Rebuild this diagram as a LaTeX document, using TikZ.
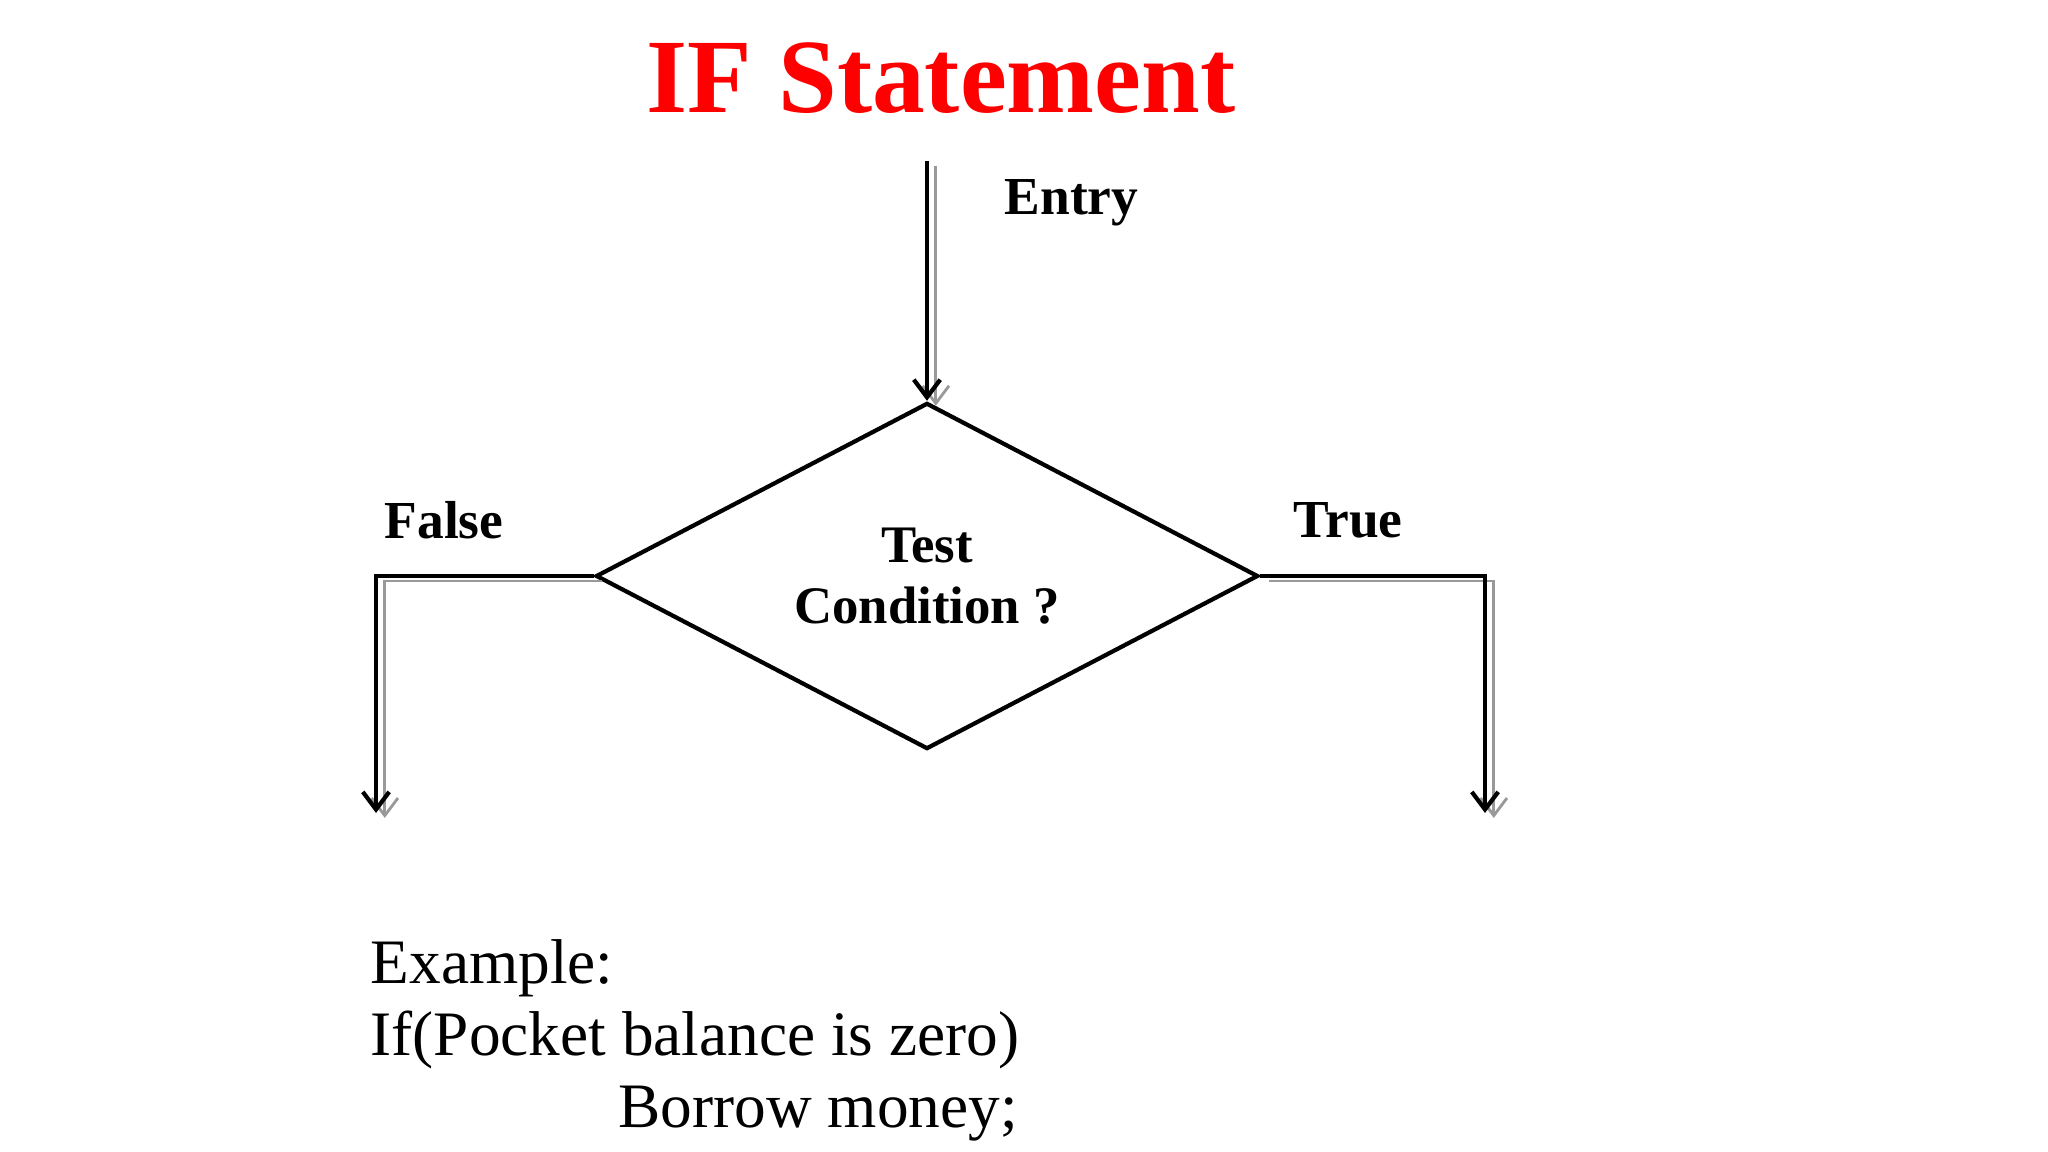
\documentclass[tikz,border=0pt]{standalone}
\usepackage{fontspec}
\setmainfont{Liberation Serif}
\usetikzlibrary{shapes.geometric, arrows.meta}

\begin{document}
\begin{tikzpicture}[x=0.01cm, y=-0.01cm, inner sep=0mm,
		decisionstyle/.style={draw, diamond, aspect=1.9, line width=1.2pt, minimum width=6.62cm, minimum height=3.46cm, align=center, font=\bfseries\fontsize{15}{17.3}\selectfont},
		labelstyle/.style={font=\bfseries\fontsize{15.2}{18}\selectfont},
		textstyle/.style={anchor=base west, font=\fontsize{18}{21}\selectfont},
		edgestyle/.style={line width=1.2pt, -{Straight Barb[length=5pt, width=7.5pt, line width=1.2pt]}},
		shadowstyle/.style={line width=0.8pt, black!40, transform canvas={xshift=2.5pt, yshift=-1.4pt}, -{Straight Barb[length=5pt, width=7.5pt, line width=0.8pt]}}]

		\useasboundingbox[fill=white] (0,0) rectangle (2048,1152);

		\node [text=red, font=\bfseries\fontsize{30}{36}\selectfont] (title) at (941,78) {IF Statement};

		\node [decisionstyle] (test) at (927,576) {Test\\Condition ?};

		\coordinate (entry) at (927,161);
		\coordinate (fcorner) at (376,576);
		\coordinate (fend) at (376,813);
		\coordinate (tcorner) at (1485,576);
		\coordinate (tend) at (1485,813);

		% shadows first, then the black lines on top
		\foreach \style in {shadowstyle, edgestyle}
		{
			\draw[\style] (entry) -- (test.north);
			\draw[\style] (test.west) -- (fcorner) -- (fend);
			\draw[\style] (test.east) -- (tcorner) -- (tend);
		}

		\node [labelstyle, anchor=west] (entrylbl) at (1004,203) {Entry};
		\node [labelstyle] (falselbl) at (444,520) {False};
		\node [labelstyle] (truelbl) at (1348,520) {True};

		\node [textstyle] (ex1) at (370,983) {Example:};
		\node [textstyle] (ex2) at (370,1055) {If(Pocket balance is zero)};
		\node [textstyle] (ex3) at (618,1127) {Borrow money;};

		\end{tikzpicture}
\end{document}
